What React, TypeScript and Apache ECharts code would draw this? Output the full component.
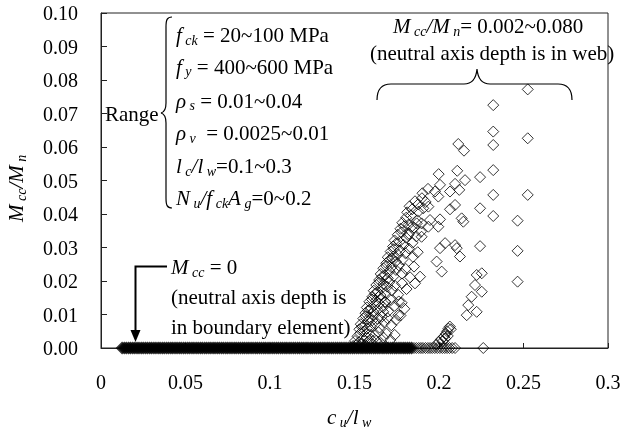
import React, { useEffect, useRef } from "react";
import * as echarts from "echarts";

const FONT = "Liberation Serif";

// x-axis ticks 0..0.3 step 0.05; y-axis 0..0.10 step 0.01
const xRange = [0, 0.3];
const yRange = [0, 0.1];

// Mcc = 0 points (neutral axis in boundary element) — dense part of the band
const zeroDenseX = [
  0.0125, 0.0138, 0.015, 0.0163, 0.0175, 0.0188, 0.02, 0.0213, 0.0225, 0.0238, 0.025, 0.0263,
  0.0275, 0.0288, 0.03, 0.0313, 0.0325, 0.0338, 0.035, 0.0363, 0.0375, 0.0388, 0.04, 0.0413,
  0.0425, 0.0438, 0.045, 0.0463, 0.0475, 0.0488, 0.05, 0.0513, 0.0525, 0.0538, 0.055, 0.0563,
  0.0575, 0.0588, 0.06, 0.0613, 0.0625, 0.0638, 0.065, 0.0663, 0.0675, 0.0688, 0.07, 0.0713,
  0.0725, 0.0738, 0.075, 0.0763, 0.0775, 0.0788, 0.08, 0.0813, 0.0825, 0.0838, 0.085, 0.0863,
  0.0875, 0.0888, 0.09, 0.0913, 0.0925, 0.0938, 0.095, 0.0963, 0.0975, 0.0988, 0.1, 0.1013,
  0.1025, 0.1038, 0.105, 0.1063, 0.1075, 0.1088, 0.11, 0.1113, 0.1125, 0.1138, 0.115, 0.1163,
  0.1175, 0.1188, 0.12, 0.1213, 0.1225, 0.1238, 0.125, 0.1263, 0.1275, 0.1288, 0.13, 0.1313,
  0.1325, 0.1338, 0.135, 0.1363, 0.1375, 0.1388, 0.14, 0.1413, 0.1425, 0.1438, 0.145, 0.1463,
  0.1475, 0.1488, 0.15, 0.1513, 0.1525, 0.1538, 0.155, 0.1563, 0.1575, 0.1588, 0.16, 0.1613,
  0.1625, 0.1638, 0.165, 0.1663, 0.1675, 0.1688, 0.17, 0.1713, 0.1725, 0.1738, 0.175, 0.1763,
  0.1775, 0.1788, 0.18, 0.1813, 0.1825, 0.1838,
];
// Mcc = 0 points, sparse tail of the band
const zeroSparseX = [
  0.1852, 0.1866, 0.188, 0.1893, 0.1905, 0.192, 0.1934, 0.1947, 0.196, 0.1975, 0.199, 0.2005,
  0.202, 0.2034, 0.2048, 0.2062, 0.2078, 0.2095, 0.2262,
];

// Mcc/Mn > 0 points (neutral axis in web): scattered upper points
const webUpper: [number, number][] = [
  [0.2525, 0.0772], [0.2321, 0.0725], [0.2321, 0.0646], [0.2321, 0.0606], [0.2525, 0.0626],
  [0.2114, 0.0609], [0.2148, 0.0589], [0.2321, 0.0531], [0.1998, 0.0519], [0.2108, 0.0529],
  [0.2154, 0.0501], [0.2243, 0.051], [0.2095, 0.049], [0.212, 0.0472], [0.2006, 0.0487],
  [0.1976, 0.0467], [0.1996, 0.0452], [0.2321, 0.0457], [0.2525, 0.0457], [0.2065, 0.0467],
  [0.1937, 0.0422], [0.1907, 0.0417], [0.1878, 0.0407], [0.2065, 0.0414], [0.2095, 0.0427],
  [0.2243, 0.0417], [0.2321, 0.0394], [0.2134, 0.0387], [0.2144, 0.0377], [0.2006, 0.0384],
  [0.1947, 0.0382], [0.1838, 0.0362], [0.1868, 0.0372], [0.1937, 0.0362], [0.1996, 0.0362],
  [0.2465, 0.038], [0.2465, 0.029], [0.2465, 0.0198], [0.1818, 0.0337], [0.1897, 0.0332],
  [0.2006, 0.0298], [0.2036, 0.0313], [0.2095, 0.0307], [0.2105, 0.0298], [0.2243, 0.0304],
  [0.2124, 0.0273], [0.1986, 0.0258], [0.2016, 0.0228], [0.1888, 0.0213], [0.1858, 0.0193],
  [0.173, 0.0273], [0.2223, 0.0218], [0.2253, 0.0223], [0.2213, 0.0188], [0.2253, 0.0168],
  [0.2193, 0.0153], [0.2173, 0.0128], [0.2223, 0.0108], [0.2164, 0.0098], [0.1779, 0.0135],
  [0.167, 0.0108], [0.168, 0.0138], [0.1759, 0.0098],
];

// dense cloud rising from cu/lw ≈ 0.15
const webDense: [number, number][] = [
  [0.1492, 0.0006], [0.1503, 0.0021], [0.1511, 0.0009], [0.1518, 0.0035], [0.1526, 0.0017],
  [0.1534, 0.0044], [0.1541, 0.0012], [0.1549, 0.0028], [0.1556, 0.0049], [0.1563, 0.0008],
  [0.1571, 0.0033], [0.1579, 0.0019], [0.1588, 0.0041], [0.1597, 0.0026], [0.1607, 0.0011],
  [0.1618, 0.0038], [0.1629, 0.0022], [0.1642, 0.0047], [0.1655, 0.0015], [0.1671, 0.0031],
  [0.1689, 0.0043], [0.1712, 0.0024], [0.1738, 0.0039],
  [0.1529, 0.0056], [0.1537, 0.0071], [0.1545, 0.0062], [0.1552, 0.0088], [0.1559, 0.0067],
  [0.1566, 0.0095], [0.1574, 0.0058], [0.1581, 0.0079], [0.1589, 0.0091], [0.1597, 0.0064],
  [0.1606, 0.0083], [0.1615, 0.0098], [0.1624, 0.0072], [0.1636, 0.0087], [0.1648, 0.0061],
  [0.1661, 0.0093], [0.1677, 0.0076], [0.1695, 0.0089], [0.1718, 0.0068], [0.1746, 0.0084],
  [0.1772, 0.0097],
  [0.1565, 0.0104], [0.1573, 0.0121], [0.1581, 0.0112], [0.1588, 0.0138], [0.1596, 0.0117],
  [0.1603, 0.0145], [0.1611, 0.0108], [0.1619, 0.0129], [0.1627, 0.0141], [0.1636, 0.0114],
  [0.1646, 0.0133], [0.1657, 0.0148], [0.1669, 0.0122], [0.1683, 0.0137], [0.1699, 0.0109],
  [0.1716, 0.0143], [0.1737, 0.0126], [0.1762, 0.0139], [0.1795, 0.0117],
  [0.1606, 0.0153], [0.1614, 0.0171], [0.1622, 0.0162], [0.1629, 0.0188], [0.1637, 0.0167],
  [0.1645, 0.0195], [0.1653, 0.0158], [0.1662, 0.0179], [0.1671, 0.0191], [0.1681, 0.0164],
  [0.1693, 0.0183], [0.1706, 0.0197], [0.1721, 0.0172], [0.1739, 0.0186], [0.1758, 0.0159],
  [0.1781, 0.0193], [0.1808, 0.0176],
  [0.1646, 0.0203], [0.1655, 0.0221], [0.1663, 0.0212], [0.1671, 0.0238], [0.1679, 0.0217],
  [0.1688, 0.0245], [0.1697, 0.0208], [0.1707, 0.0229], [0.1718, 0.0241], [0.1731, 0.0214],
  [0.1745, 0.0233], [0.1762, 0.0247], [0.1781, 0.0222], [0.1803, 0.0236], [0.1829, 0.0211],
  [0.1852, 0.0243],
  [0.1688, 0.0253], [0.1697, 0.0271], [0.1706, 0.0262], [0.1714, 0.0288], [0.1723, 0.0267],
  [0.1733, 0.0295], [0.1744, 0.0258], [0.1756, 0.0279], [0.1769, 0.0291], [0.1784, 0.0264],
  [0.1801, 0.0283], [0.1822, 0.0297], [0.1846, 0.0272], [0.1874, 0.0286],
  [0.1728, 0.0303], [0.1737, 0.0321], [0.1747, 0.0312], [0.1756, 0.0338], [0.1766, 0.0317],
  [0.1778, 0.0345], [0.1791, 0.0308], [0.1806, 0.0329], [0.1823, 0.0341], [0.1843, 0.0314],
  [0.1866, 0.0333], [0.1893, 0.0347],
  [0.1772, 0.0356], [0.1783, 0.0374], [0.1794, 0.0363], [0.1806, 0.0389], [0.1819, 0.0368],
  [0.1834, 0.0396], [0.1852, 0.0359], [0.1873, 0.0381], [0.1897, 0.0372],
  [0.1812, 0.0405], [0.1826, 0.0423], [0.1841, 0.0414], [0.1858, 0.0438], [0.1877, 0.0429],
  [0.1899, 0.0447], [0.1921, 0.0436], [0.1902, 0.0462], [0.1935, 0.0475],
];

// small second branch near cu/lw ≈ 0.2
const webBranch: [number, number][] = [
  [0.1985, 0.001], [0.2, 0.0018], [0.2012, 0.0026], [0.2022, 0.002], [0.203, 0.0034],
  [0.204, 0.0042], [0.2036, 0.0028], [0.2048, 0.005], [0.2056, 0.0058], [0.2064, 0.0064],
  [0.207, 0.0056], [0.2052, 0.0036],
];

echarts.graphic.registerShape(
  "braceRange",
  echarts.graphic.extendPath(
    "M172,17 C167,17 166,20 166,27 L166,103 C166,109 165,112 161,113 C165,114 166,117 166,123 L166,198 C166,205 167,208 172,208",
    {}
  )
);
echarts.graphic.registerShape(
  "braceTop",
  echarts.graphic.extendPath(
    "M377,100 C377,90 381,84 391,84 L464,84 C471,84 476,80 477,69 C478,80 483,84 490,84 L558,84 C568,84 572,90 572,100",
    {}
  )
);

const hollow = { color: "rgba(0,0,0,0)", borderColor: "#000", borderWidth: 1 };

function makeOption(F: string) {
  const rich = {
    n: { fontFamily: F, fontSize: 21, lineHeight: 24 },
    i: { fontFamily: F, fontSize: 21, fontStyle: "italic", lineHeight: 24 },
    s: { fontFamily: F, fontSize: 14, fontStyle: "italic", lineHeight: 14, verticalAlign: "bottom" },
  };
  // (x, y) is the top-left corner of the 24px text line
  const txt = (x: number, y: number, text: string, rotation = 0) => ({
    type: "text",
    x,
    y,
    rotation,
    silent: true,
    style: { text, rich, fill: "#000", fontFamily: F, fontSize: 21 },
  });
  const fmtX = (v: number) => String(parseFloat(v.toFixed(2)));
  return {
    animation: false,
    grid: {
      left: 101,
      top: 13,
      right: 13,
      bottom: 93,
      show: true,
      borderColor: "#222",
      borderWidth: 1,
      outerBoundsMode: "none",
    },
    xAxis: {
      type: "value",
      min: xRange[0],
      max: xRange[1],
      interval: 0.05,
      axisLine: { show: true, lineStyle: { color: "#222" } },
      axisTick: { show: true, inside: true, length: 5, lineStyle: { color: "#222" } },
      splitLine: { show: false },
      axisLabel: { formatter: fmtX, fontFamily: F, fontSize: 20, color: "#000", margin: 24 },
    },
    yAxis: {
      type: "value",
      min: yRange[0],
      max: yRange[1],
      interval: 0.01,
      axisLine: { show: true, lineStyle: { color: "#222" } },
      axisTick: { show: true, inside: true, length: 6, lineStyle: { color: "#222" } },
      splitLine: { show: false },
      axisLabel: {
        formatter: (v: number) => v.toFixed(2),
        fontFamily: F,
        fontSize: 20,
        color: "#000",
        margin: 23,
      },
    },
    series: [
      { type: "scatter", name: "zeroDense", symbol: "diamond", symbolSize: 13, itemStyle: { color: "#000" }, data: zeroDenseX.map((x) => [x, 0]) },
      { type: "scatter", name: "zeroSparse", symbol: "diamond", symbolSize: 11, itemStyle: hollow, data: zeroSparseX.map((x) => [x, 0]) },
      { type: "scatter", name: "webDense", symbol: "diamond", symbolSize: 11, itemStyle: hollow, data: webDense },
      { type: "scatter", name: "webBranch", symbol: "diamond", symbolSize: 11, itemStyle: hollow, data: webBranch },
      { type: "scatter", name: "webUpper", symbol: "diamond", symbolSize: 11, itemStyle: hollow, data: webUpper },
    ],
    graphic: [
      { type: "braceRange", x: 0, y: 0, silent: true, style: { stroke: "#000", fill: "none", lineWidth: 1.2 } },
      txt(105, 102, "{n|Range}"),
      txt(176, 23, "{i|f}{s| ck}{n| = 20~100 MPa}"),
      txt(176, 54.5, "{i|f}{s| y}{n| = 400~600 MPa}"),
      txt(176, 88.5, "{i|ρ}{s| s}{n| = 0.01~0.04}"),
      txt(176, 121, "{i|ρ}{s| v}{n|  = 0.0025~0.01}"),
      txt(176, 154, "{i|l}{s| c}{i|/l}{s| w}{n|=0.1~0.3}"),
      txt(176, 186, "{i|N}{s| u}{i|/f}{s| ck}{i|A}{s| g}{n|=0~0.2}"),
      txt(393, 14, "{i|M}{s| cc}{i|/M}{s| n}{n|= 0.002~0.080}"),
      txt(370, 41, "{n|(neutral axis depth is in web)}"),
      { type: "braceTop", x: 0, y: 0, silent: true, style: { stroke: "#000", fill: "none", lineWidth: 1.2 } },
      {
        type: "polyline",
        silent: true,
        shape: { points: [[167, 266.5], [135.5, 266.5], [135.5, 331]] },
        style: { stroke: "#000", lineWidth: 2, fill: "none" },
      },
      {
        type: "polygon",
        silent: true,
        shape: { points: [[130.5, 330], [140.5, 330], [135.5, 342]] },
        style: { fill: "#000" },
      },
      txt(171, 255, "{i|M}{s| cc}{n| = 0}"),
      txt(171, 285, "{n|(neutral axis depth is}"),
      txt(171, 315, "{n|in boundary element)}"),
      txt(327, 405, "{i|c}{s| u}{i|/l}{s| w}"),
      txt(4, 222, "{i|M}{s| cc}{i|/M}{s| n}", Math.PI / 2),
    ],
  };
}

export default function App() {
  const ref = useRef<HTMLDivElement>(null);
  useEffect(() => {
    const chart = echarts.init(ref.current!, null, { renderer: "svg" });
    chart.setOption(makeOption(FONT));
    let alive = true;
    const fonts: any = (document as any).fonts;
    if (fonts && fonts.load) {
      Promise.all([
        fonts.load(`20px "${FONT}"`),
        fonts.load(`italic 20px "${FONT}"`),
      ])
        .then(() => {
          if (alive) chart.setOption(makeOption(`"${FONT}", serif`), true);
        })
        .catch(() => {});
    }
    return () => {
      alive = false;
      chart.dispose();
    };
  }, []);
  return <div ref={ref} style={{ position: "fixed", left: 0, top: 0, width: 621, height: 441 }} />;
}
